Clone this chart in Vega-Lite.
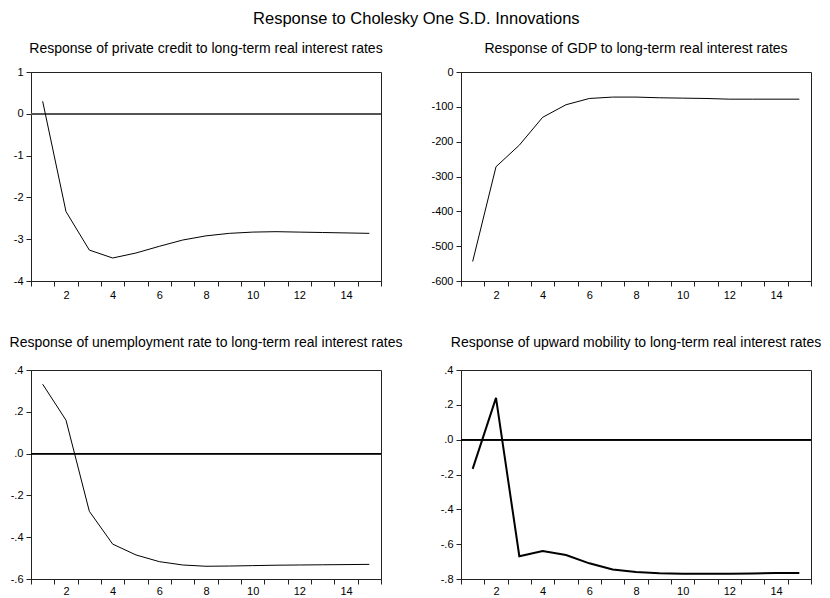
{
  "$schema": "https://vega.github.io/schema/vega-lite/v6.json",
  "background": "white",
  "padding": {"left": 9, "top": 11, "right": 5, "bottom": 0},
  "title": {"text": "Response to Cholesky One S.D. Innovations", "fontSize": 16.5, "fontWeight": "normal", "font": "Liberation Sans", "color": "#000", "anchor": "middle", "offset": 14},
  "config": {
    "font": "Liberation Sans",
    "view": {"stroke": "#222", "strokeWidth": 1},
    "axis": {"labelFont": "Liberation Sans", "labelFontSize": 11, "labelColor": "#000", "domainColor": "#222", "tickColor": "#222", "grid": false, "title": null, "labelOverlap": false, "tickCount": 100},
    "title": {"fontSize": 14, "fontWeight": "normal", "font": "Liberation Sans", "color": "#000", "anchor": "middle"}
  },
  "datasets": {
    "irf": [
      {"panel": "credit", "period": 1, "value": 0.30},
      {"panel": "credit", "period": 2, "value": -2.34},
      {"panel": "credit", "period": 3, "value": -3.26},
      {"panel": "credit", "period": 4, "value": -3.45},
      {"panel": "credit", "period": 5, "value": -3.33},
      {"panel": "credit", "period": 6, "value": -3.17},
      {"panel": "credit", "period": 7, "value": -3.02},
      {"panel": "credit", "period": 8, "value": -2.92},
      {"panel": "credit", "period": 9, "value": -2.86},
      {"panel": "credit", "period": 10, "value": -2.83},
      {"panel": "credit", "period": 11, "value": -2.82},
      {"panel": "credit", "period": 12, "value": -2.83},
      {"panel": "credit", "period": 13, "value": -2.84},
      {"panel": "credit", "period": 14, "value": -2.85},
      {"panel": "credit", "period": 15, "value": -2.86},
      {"panel": "gdp", "period": 1, "value": -544},
      {"panel": "gdp", "period": 2, "value": -272},
      {"panel": "gdp", "period": 3, "value": -210},
      {"panel": "gdp", "period": 4, "value": -130},
      {"panel": "gdp", "period": 5, "value": -94},
      {"panel": "gdp", "period": 6, "value": -76},
      {"panel": "gdp", "period": 7, "value": -72},
      {"panel": "gdp", "period": 8, "value": -72},
      {"panel": "gdp", "period": 9, "value": -74},
      {"panel": "gdp", "period": 10, "value": -75},
      {"panel": "gdp", "period": 11, "value": -76},
      {"panel": "gdp", "period": 12, "value": -78},
      {"panel": "gdp", "period": 13, "value": -78},
      {"panel": "gdp", "period": 14, "value": -78},
      {"panel": "gdp", "period": 15, "value": -78},
      {"panel": "unemp", "period": 1, "value": 0.332},
      {"panel": "unemp", "period": 2, "value": 0.16},
      {"panel": "unemp", "period": 3, "value": -0.276},
      {"panel": "unemp", "period": 4, "value": -0.433},
      {"panel": "unemp", "period": 5, "value": -0.485},
      {"panel": "unemp", "period": 6, "value": -0.517},
      {"panel": "unemp", "period": 7, "value": -0.533},
      {"panel": "unemp", "period": 8, "value": -0.539},
      {"panel": "unemp", "period": 9, "value": -0.538},
      {"panel": "unemp", "period": 10, "value": -0.536},
      {"panel": "unemp", "period": 11, "value": -0.534},
      {"panel": "unemp", "period": 12, "value": -0.533},
      {"panel": "unemp", "period": 13, "value": -0.532},
      {"panel": "unemp", "period": 14, "value": -0.531},
      {"panel": "unemp", "period": 15, "value": -0.530},
      {"panel": "mobility", "period": 1, "value": -0.168},
      {"panel": "mobility", "period": 2, "value": 0.24},
      {"panel": "mobility", "period": 3, "value": -0.669},
      {"panel": "mobility", "period": 4, "value": -0.64},
      {"panel": "mobility", "period": 5, "value": -0.662},
      {"panel": "mobility", "period": 6, "value": -0.71},
      {"panel": "mobility", "period": 7, "value": -0.745},
      {"panel": "mobility", "period": 8, "value": -0.76},
      {"panel": "mobility", "period": 9, "value": -0.767},
      {"panel": "mobility", "period": 10, "value": -0.77},
      {"panel": "mobility", "period": 11, "value": -0.77},
      {"panel": "mobility", "period": 12, "value": -0.77},
      {"panel": "mobility", "period": 13, "value": -0.768},
      {"panel": "mobility", "period": 14, "value": -0.766},
      {"panel": "mobility", "period": 15, "value": -0.765}
    ]
  },
  "columns": 2,
  "spacing": {"row": 89, "column": 80},
  "bounds": "flush",
  "concat": [
    {
      "width": 350, "height": 209,
      "title": {"text": "Response of private credit to long-term real interest rates", "offset": 10},
      "data": {"name": "irf"},
      "transform": [{"filter": "datum.panel == 'credit'"}],
      "layer": [
        {"mark": {"type": "rule", "color": "#555", "strokeWidth": 1}, "encoding": {"y": {"datum": 0, "type": "quantitative"}}},
        {"mark": {"type": "line", "color": "#000", "strokeWidth": 1},
         "encoding": {
           "x": {"field": "period", "type": "quantitative", "scale": {"domain": [0.5, 15.5], "nice": false, "zero": false},
                 "axis": {"values": [0.5,1,1.5,2,2.5,3,3.5,4,4.5,5,5.5,6,6.5,7,7.5,8,8.5,9,9.5,10,10.5,11,11.5,12,12.5,13,13.5,14,14.5,15,15.5], "labelExpr": "datum.value % 2 == 0 ? datum.value : ''", "tickOpacity": {"condition": {"test": "datum.value % 1 == 0", "value": 0}, "value": 1}, "tickSize": 5, "labelPadding": 3, "labelFlush": false, "tickCount": 100}},
           "y": {"field": "value", "type": "quantitative", "scale": {"domain": [-4, 1], "nice": false, "zero": false},
                 "axis": {"values": [-4,-3,-2,-1,0,1], "labelExpr": "(datum.value < 0 ? '-' : '') + format(abs(datum.value), 'd')", "tickSize": 5, "labelPadding": 3, "tickCount": 100}}
         }}
      ]
    },
    {
      "width": 350, "height": 209,
      "title": {"text": "Response of GDP to long-term real interest rates", "offset": 10},
      "data": {"name": "irf"},
      "transform": [{"filter": "datum.panel == 'gdp'"}],
      "layer": [
        {"mark": {"type": "line", "color": "#000", "strokeWidth": 1},
         "encoding": {
           "x": {"field": "period", "type": "quantitative", "scale": {"domain": [0.5, 15.5], "nice": false, "zero": false},
                 "axis": {"values": [0.5,1,1.5,2,2.5,3,3.5,4,4.5,5,5.5,6,6.5,7,7.5,8,8.5,9,9.5,10,10.5,11,11.5,12,12.5,13,13.5,14,14.5,15,15.5], "labelExpr": "datum.value % 2 == 0 ? datum.value : ''", "tickOpacity": {"condition": {"test": "datum.value % 1 == 0", "value": 0}, "value": 1}, "tickSize": 5, "labelPadding": 3, "labelFlush": false, "tickCount": 100}},
           "y": {"field": "value", "type": "quantitative", "scale": {"domain": [-600, 0], "nice": false, "zero": false},
                 "axis": {"values": [-600,-500,-400,-300,-200,-100,0], "labelExpr": "(datum.value < 0 ? '-' : '') + format(abs(datum.value), 'd')", "tickSize": 5, "labelPadding": 3, "tickCount": 100}}
         }}
      ]
    },
    {
      "width": 350, "height": 209,
      "title": {"text": "Response of unemployment rate to long-term real interest rates", "offset": 14},
      "data": {"name": "irf"},
      "transform": [{"filter": "datum.panel == 'unemp'"}],
      "layer": [
        {"mark": {"type": "rule", "color": "#000", "strokeWidth": 1}, "encoding": {"y": {"datum": 0, "type": "quantitative"}}},
        {"mark": {"type": "line", "color": "#000", "strokeWidth": 1},
         "encoding": {
           "x": {"field": "period", "type": "quantitative", "scale": {"domain": [0.5, 15.5], "nice": false, "zero": false},
                 "axis": {"values": [0.5,1,1.5,2,2.5,3,3.5,4,4.5,5,5.5,6,6.5,7,7.5,8,8.5,9,9.5,10,10.5,11,11.5,12,12.5,13,13.5,14,14.5,15,15.5], "labelExpr": "datum.value % 2 == 0 ? datum.value : ''", "tickOpacity": {"condition": {"test": "datum.value % 1 == 0", "value": 0}, "value": 1}, "tickSize": 5, "labelPadding": 1, "labelFlush": false, "tickCount": 100}},
           "y": {"field": "value", "type": "quantitative", "scale": {"domain": [-0.6, 0.4], "nice": false, "zero": false},
                 "axis": {"values": [-0.6,-0.4,-0.2,0,0.2,0.4], "labelExpr": "(datum.value < 0 ? '-' : '') + replace(format(abs(datum.value), '.1f'), '0.', '.')", "tickSize": 5, "labelPadding": 3, "tickCount": 100}}
         }}
      ]
    },
    {
      "width": 350, "height": 209,
      "title": {"text": "Response of  upward mobility to long-term real interest rates", "offset": 14},
      "data": {"name": "irf"},
      "transform": [{"filter": "datum.panel == 'mobility'"}],
      "layer": [
        {"mark": {"type": "rule", "color": "#000", "strokeWidth": 1}, "encoding": {"y": {"datum": 0, "type": "quantitative"}}},
        {"mark": {"type": "line", "color": "#000", "strokeWidth": 2},
         "encoding": {
           "x": {"field": "period", "type": "quantitative", "scale": {"domain": [0.5, 15.5], "nice": false, "zero": false},
                 "axis": {"values": [0.5,1,1.5,2,2.5,3,3.5,4,4.5,5,5.5,6,6.5,7,7.5,8,8.5,9,9.5,10,10.5,11,11.5,12,12.5,13,13.5,14,14.5,15,15.5], "labelExpr": "datum.value % 2 == 0 ? datum.value : ''", "tickOpacity": {"condition": {"test": "datum.value % 1 == 0", "value": 0}, "value": 1}, "tickSize": 5, "labelPadding": 1, "labelFlush": false, "tickCount": 100}},
           "y": {"field": "value", "type": "quantitative", "scale": {"domain": [-0.8, 0.4], "nice": false, "zero": false},
                 "axis": {"values": [-0.8,-0.6,-0.4,-0.2,0,0.2,0.4], "labelExpr": "(datum.value < 0 ? '-' : '') + replace(format(abs(datum.value), '.1f'), '0.', '.')", "tickSize": 5, "labelPadding": 3, "tickCount": 100}}
         }}
      ]
    }
  ]
}
